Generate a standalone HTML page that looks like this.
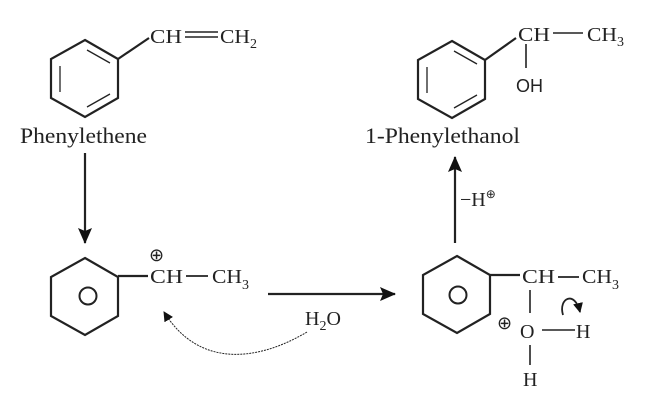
<!DOCTYPE html>
<html><head><meta charset="utf-8"><style>body{margin:0;background:#fff}svg{display:block}</style></head><body>
<svg width="671" height="405" viewBox="0 0 671 405" xmlns="http://www.w3.org/2000/svg" font-family="Liberation Serif, serif" fill="#222">
<defs><marker id="ah" markerWidth="10" markerHeight="10" refX="9" refY="5" orient="auto" markerUnits="userSpaceOnUse"><path d="M0,0 L10,5 L0,10 Z" fill="#111"/></marker>
<marker id="ah2" markerWidth="16" markerHeight="14" refX="15" refY="7" orient="auto" markerUnits="userSpaceOnUse"><path d="M0,0 L16,7 L0,14 L3,7 Z" fill="#111"/></marker></defs>
<g stroke="#222" stroke-width="2.2" fill="none">
<polygon points="85,40 118,59 118,98 85,117 51,98 51,59"/>
<path d="M60,66 L60,92 M87,50 L110,63 M87,107 L110,94" stroke-width="1.3"/>
<path d="M118,59 L149,38"/>
<path d="M185,32 H218 M185,37 H218" stroke-width="1.6"/>
<polygon points="452,41 485,60 485,99 452,118 418,99 418,60"/>
<path d="M427,67 L427,93 M454,51 L477,64 M454,108 L477,95" stroke-width="1.3"/>
<path d="M485,60 L516,38"/>
<path d="M553,33 H583" stroke-width="1.6"/>
<path d="M526,44 L526,68" stroke-width="1.6"/>
<polygon points="85,258 118,277 118,316 85,335 51,316 51,277"/>
<circle cx="88" cy="296" r="8.5" stroke-width="2"/>
<path d="M118,276 L148,276"/>
<path d="M186,276 H208" stroke-width="1.8"/>
<polygon points="457,256 490,275 490,314 457,333 423,314 423,275"/>
<circle cx="458" cy="295" r="8.5" stroke-width="2"/>
<path d="M490,275 L520,275"/>
<path d="M558,277 H579" stroke-width="1.8"/>
<path d="M530,290 L530,313 M530,345 L530,365 M542,330 L575,330" stroke-width="1.6"/>
<path d="M85,153 L85,243" marker-end="url(#ah2)"/>
<path d="M268,294 L395,294" marker-end="url(#ah2)"/>
<path d="M455,243 L455,157" marker-end="url(#ah2)"/>
<path d="M307,332 C260,360 200,370 164,312" stroke-width="1" stroke-dasharray="2,1" marker-end="url(#ah)"/>
<path d="M563,315 C558,298 575,290 580,312" stroke-width="1.8" marker-end="url(#ah)"/>
</g>
<g font-size="20">
<text x="150" y="43" textLength="32" lengthAdjust="spacingAndGlyphs">CH</text><text x="220" y="43" textLength="30" lengthAdjust="spacingAndGlyphs">CH</text><text x="250" y="48" font-size="14">2</text>
<text x="20" y="143" font-size="22" textLength="127" lengthAdjust="spacingAndGlyphs">Phenylethene</text>
<text x="518" y="41" textLength="32" lengthAdjust="spacingAndGlyphs">CH</text><text x="587" y="41" textLength="30" lengthAdjust="spacingAndGlyphs">CH</text><text x="617" y="46" font-size="14">3</text>
<text x="516" y="92" font-family="Liberation Sans, sans-serif" font-size="18">OH</text>
<text x="365" y="143" font-size="22" textLength="155" lengthAdjust="spacingAndGlyphs">1-Phenylethanol</text>
<text x="150" y="283" textLength="33" lengthAdjust="spacingAndGlyphs">CH</text><text x="212" y="283" textLength="30" lengthAdjust="spacingAndGlyphs">CH</text><text x="242" y="289" font-size="14">3</text>
<text x="149" y="261" font-size="18">⊕</text>
<text x="305" y="325">H<tspan font-size="14" dy="5">2</tspan><tspan dy="-5">O</tspan></text>
<text x="522" y="283" textLength="33" lengthAdjust="spacingAndGlyphs">CH</text><text x="582" y="283" textLength="30" lengthAdjust="spacingAndGlyphs">CH</text><text x="612" y="289" font-size="14">3</text>
<text x="497" y="329" font-size="18">⊕</text>
<text x="520" y="338">O</text><text x="576" y="338">H</text><text x="523" y="386">H</text>
<text x="460" y="206">−H<tspan font-size="12" dy="-8">⊕</tspan></text>
</g>
</svg>
</body></html>
